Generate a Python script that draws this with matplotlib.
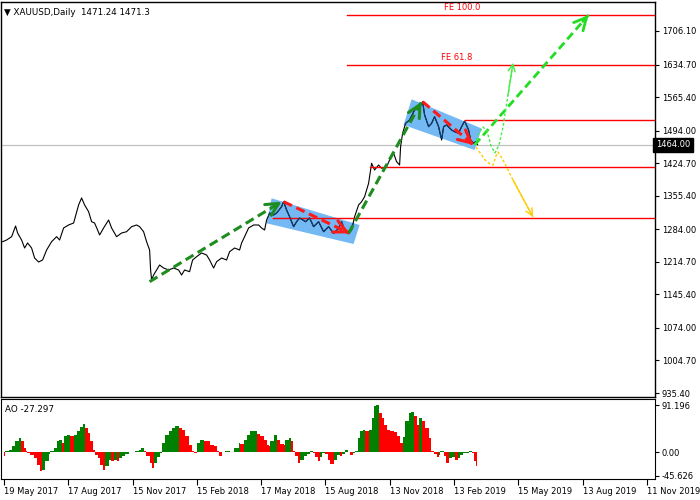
import numpy as np
import matplotlib
matplotlib.use('Agg')
import matplotlib.pyplot as plt
from matplotlib.patches import Polygon
from matplotlib.transforms import blended_transform_factory

# price line, (bar index, close)
bar_idx = [-1, 3, 8, 12, 14, 18, 21, 24, 28, 31, 35, 39, 43, 48, 53, 56, 60, 65, 70, 75,
           78, 81, 85, 88, 91, 94, 96, 100, 105, 108, 113, 118, 123, 128, 133, 136, 140, 143, 146, 147,
           148, 150, 153, 156, 160, 165, 170, 175, 178, 181, 186, 189, 193, 198, 203, 206, 210, 213, 218, 223,
           226, 231, 236, 238, 241, 245, 250, 255, 258, 261, 263, 266, 270, 273, 278, 280, 283, 286, 290, 293,
           296, 302, 306, 310, 315, 320, 325, 330, 335, 338, 341, 345, 348, 351, 355, 358, 361, 365, 367, 368,
           371, 375, 378, 383, 386, 390, 393, 396, 397, 399, 402, 406, 411, 416, 419, 421, 425, 428, 431, 435,
           438, 440, 443, 448, 451, 455, 458, 461, 465, 467, 470, 472, 474]
close = [1257.5, 1261.1, 1268.2, 1290.9, 1276.0, 1261.1, 1244.1, 1254.8, 1244.1, 1222.8,
         1214.3, 1218.6, 1239.8, 1257.5, 1268.2, 1261.1, 1286.7, 1293.1, 1297.3, 1335.7,
         1350.6, 1335.7, 1321.4, 1300.1, 1297.3, 1282.4, 1271.8, 1286.7, 1303.7, 1286.7,
         1268.2, 1276.0, 1278.8, 1289.5, 1293.1, 1289.5, 1278.8, 1257.5, 1239.8, 1197.3,
         1176.0, 1186.6, 1197.3, 1207.9, 1201.5, 1197.3, 1201.5, 1197.3, 1186.6, 1197.3,
         1193.7, 1218.6, 1225.6, 1233.5, 1229.2, 1218.6, 1201.5, 1214.9, 1222.8, 1218.6,
         1236.2, 1244.1, 1239.8, 1254.8, 1268.2, 1286.7, 1293.1, 1293.1, 1286.7, 1282.4,
         1303.7, 1318.6, 1314.4, 1318.6, 1332.0, 1342.7, 1325.0, 1310.7, 1289.5, 1300.1,
         1308.0, 1300.1, 1308.0, 1289.5, 1300.1, 1278.8, 1289.5, 1275.4, 1286.0, 1300.1,
         1282.4, 1275.4, 1282.4, 1310.7, 1335.7, 1342.7, 1353.3, 1381.9, 1410.2, 1424.4,
         1410.2, 1420.8, 1413.8, 1417.2, 1431.5, 1445.7, 1427.8, 1420.8, 1459.8, 1488.3,
         1509.6, 1516.6, 1537.9, 1544.9, 1555.6, 1527.3, 1502.4, 1509.6, 1523.6, 1502.4,
         1474.0, 1502.4, 1506.0, 1495.3, 1491.7, 1488.3, 1502.4, 1514.5, 1495.3, 1474.0,
         1467.0, 1470.4, 1464.0]

# awesome oscillator
ao_idx = [0, 1, 5, 8, 11, 15, 17, 20, 22, 23, 26, 30, 33, 36, 38, 41, 45, 46, 50, 53,
          55, 58, 60, 63, 66, 70, 73, 76, 79, 81, 84, 86, 89, 91, 94, 96, 99, 101, 105, 107,
          110, 113, 115, 118, 121, 125, 128, 131, 135, 137, 140, 142, 146, 148, 150, 153, 156, 158, 161, 165,
          168, 171, 175, 178, 181, 185, 188, 190, 193, 196, 200, 203, 206, 210, 213, 215, 218, 221, 226, 230,
          235, 236, 240, 243, 246, 250, 253, 256, 260, 263, 265, 266, 270, 273, 276, 280, 281, 285, 287, 289,
          291, 294, 296, 300, 303, 306, 309, 311, 314, 316, 318, 321, 324, 326, 330, 333, 336, 338, 341, 344,
          346, 349, 351, 354, 356, 359, 361, 365, 368, 370, 372, 375, 378, 380, 383, 386, 390, 393, 396, 399,
          401, 405, 407, 410, 413, 415, 418, 421, 425, 427, 430, 433, 435, 436, 440, 442, 445, 448, 451, 454,
          456, 459, 465, 468, 470, 472]
ao_val = [-7.7, 2.0, 5.0, 11.6, 22.5, 27.6, 21.0, 8.4, 2.0, -1.3, -5.8, -11.0, -23.8, -35.4, -33.4, -17.4, -3.2, 2.0, 8.4, 21.2,
          24.4, 18.0, 30.9, 32.8, 30.9, 34.0, 40.5, 48.2, 54.7, 47.0, 37.3, 21.2, 5.0, -4.5, -11.0, -23.8, -33.4, -27.0, -14.0, -17.4,
          -14.0, -17.4, -11.0, -7.7, -3.2, 0.0, 0.6, 2.0, 5.0, 8.4, 3.2, -7.7, -20.6, -30.2, -20.6, -9.6, -1.3, 18.0, 34.0, 40.5,
          47.0, 50.0, 47.0, 43.7, 30.9, 14.8, 2.0, -1.3, 18.0, 24.4, 22.5, 21.2, 14.8, 11.6, 2.0, -7.7, 0.0, 2.0, 0.6, 8.4,
          18.0, 16.0, 24.4, 34.0, 40.5, 41.8, 35.4, 30.9, 24.4, 14.8, 11.6, 21.2, 32.8, 24.4, 16.0, 14.8, 24.4, 27.6, 21.2, 2.0,
          -7.7, -20.6, -14.0, -7.7, -3.2, 3.2, -1.3, -9.6, -17.4, -9.6, -1.3, -3.2, -14.0, -21.9, -14.0, -4.5, -7.7, -3.2, 5.0, 0.6,
          -5.8, -1.3, 2.0, 27.6, 40.5, 43.7, 40.5, 43.7, 66.2, 88.7, 91.2, 75.9, 66.2, 53.4, 43.7, 40.5, 38.6, 30.9, 18.0, 30.0,
          59.8, 75.9, 77.8, 69.4, 53.4, 66.2, 59.8, 47.0, 27.6, 2.0, -3.2, -9.6, -4.5, 2.0, -7.7, -20.6, -11.0, -9.6, -14.0, -11.0,
          -4.5, -1.3, 2.0, -1.3, -17.4, -27.3]

price_ticks = [935.40, 1004.70, 1074.00, 1145.40, 1214.70, 1284.00, 1355.40, 1424.70, 1494.00, 1565.40, 1634.70, 1706.10]
date_pos = [0, 64, 129, 193, 257, 321, 386, 450, 514, 579, 643]
date_labels = ['19 May 2017', '17 Aug 2017', '15 Nov 2017', '15 Feb 2018', '17 May 2018', '15 Aug 2018',
               '13 Nov 2018', '13 Feb 2019', '15 May 2019', '13 Aug 2019', '11 Nov 2019']
last_price = 1464.00

# horizontal levels: (price, first bar)
levels = [(1740.2, 343), (1634.7, 343), (1516.6, 461), (1416.6, 366), (1308.0, 269)]
fe_labels = [('FE 100.0', 459, 1740.2), ('FE 61.8', 453, 1634.7)]

# channels (bar, price) corners
channel1 = [(268, 1349.9), (356, 1293.1), (350, 1252.6), (263, 1296.7)]
channel2 = [(408, 1560.7), (478, 1498.5), (471, 1452.7), (400, 1506.0)]

# wave arrows: start, end, colour, width
waves = [((146, 1172.4), (278, 1342.7), '#1e8c1e', 2.2),
         ((280, 1342.7), (346, 1275.4), '#ff1a1a', 2.2),
         ((345, 1275.4), (418, 1555.6), '#1e8c1e', 2.2),
         ((419, 1555.6), (470, 1463.4), '#ff1a1a', 2.2),
         ((471, 1463.4), (585, 1740.2), '#22dd22', 2.0)]

bull_x = [471.4, 475.4, 479.4, 483.4, 487.4, 491.4, 495.4, 499.4, 504.4, 509.4]
bull_y = [1463.4, 1488.9, 1501.7, 1493.2, 1461.3, 1446.4, 1463.4, 1501.7, 1569.8, 1638.0]
bear_x = [472.4, 481.4, 486.4, 489.4, 492.4, 494.4, 499.4, 509.4, 529.4]
bear_y = [1459.1, 1431.5, 1422.9, 1420.8, 1440.0, 1448.5, 1431.5, 1388.9, 1310.1]

plt.rcParams['font.family'] = 'DejaVu Sans'
fs = 6.0

fig = plt.figure(figsize=(7, 5), dpi=100)
ax = fig.add_axes([1/700, 103/500, 654/700, 395/500])
ax2 = fig.add_axes([1/700, 21/500, 654/700, 80/500])

x0, x1 = -2.6, 651.4
ax.set_xlim(x0, x1)
ax.set_ylim(926.9, 1767.8)

# current price line
ax.axhline(last_price, color='#c0c0c0', lw=0.9, zorder=1)

polys = []
for ch in [channel1, channel2]:
    p = Polygon(ch, closed=True, facecolor='#74b8f4', edgecolor='none', zorder=2)
    ax.add_patch(p)
    polys.append(p)

ax.plot(bar_idx, close, color='black', lw=0.8, zorder=3)
for p in polys:
    ln, = ax.plot(bar_idx, close, color='#123f73', lw=0.8, zorder=4)
    ln.set_clip_path(p)

for lvl, start in levels:
    ax.plot([start, x1], [lvl, lvl], color='red', lw=1.0, zorder=3)
for txt, xi, lvl in fe_labels:
    ax.text(xi, lvl + 6, txt, color='red', fontsize=fs, ha='center', va='bottom', zorder=5)


def dash_arrow(p0, p1, color, lw, ls=(0, (3, 1.6)), head='->,head_length=0.9,head_width=0.45'):
    ax.plot([p0[0], p1[0]], [p0[1], p1[1]], color=color, lw=lw, ls=ls, zorder=6)
    back = (p1[0] - (p1[0] - p0[0]) * 0.05, p1[1] - (p1[1] - p0[1]) * 0.05)
    ax.annotate('', xy=p1, xytext=back,
                arrowprops=dict(arrowstyle=head, color=color, lw=lw, shrinkA=0, shrinkB=0), zorder=6)


for p0, p1, c, w in waves:
    dash_arrow(p0, p1, c, w)

# scenario paths
ax.plot(bull_x, bull_y, color='#44ee44', lw=1.0, ls=(0, (2, 1.5)), zorder=6)
ax.annotate('', xy=(bull_x[-1], bull_y[-1]), xytext=(bull_x[-2], bull_y[-2]),
            arrowprops=dict(arrowstyle='->,head_length=0.5,head_width=0.25', color='#44ee44', lw=1.0,
                            shrinkA=0, shrinkB=0))
ax.plot(bear_x, bear_y, color='#ffcc00', lw=1.0, ls=(0, (2, 1.5)), zorder=6)
ax.annotate('', xy=(bear_x[-1], bear_y[-1]), xytext=(bear_x[-2], bear_y[-2]),
            arrowprops=dict(arrowstyle='->,head_length=0.5,head_width=0.25', color='#ffcc00', lw=1.0,
                            shrinkA=0, shrinkB=0))

# right price scale
ax.yaxis.tick_right()
ax.set_yticks(price_ticks)
ax.set_yticklabels(['%.2f' % v for v in price_ticks])
ax.tick_params(axis='y', direction='out', length=3, width=0.8, labelsize=fs, pad=2)
ax.set_xticks([])
for s in ax.spines.values():
    s.set_linewidth(1.0)

tr = blended_transform_factory(ax.transAxes, ax.transData)
ax.text(1.0015, last_price, '%.2f' % last_price, transform=tr, fontsize=fs, color='white', ha='left',
        va='center', clip_on=False,
        bbox=dict(boxstyle='square,pad=0.3', facecolor='black', edgecolor='black'))
ax.text(0.004, 0.985, '\u25bc XAUUSD,Daily  1471.24 1471.3', transform=ax.transAxes, fontsize=fs + 0.3,
        ha='left', va='top')

# AO panel
colors = ['#008000' if i > 0 and ao_val[i] > ao_val[i - 1] else '#ff0000' for i in range(len(ao_val))]
widths = [ao_idx[i + 1] - ao_idx[i] for i in range(len(ao_idx) - 1)] + [1]
ax2.bar(ao_idx, ao_val, width=widths, align='edge', color=colors, linewidth=0)
ax2.set_xlim(x0, x1)
ax2.set_ylim(-51.5, 102.8)
ax2.yaxis.tick_right()
ax2.set_yticks([91.196, 0.0, -45.626])
ax2.set_yticklabels(['91.196', '0.00', '-45.626'])
ax2.tick_params(axis='y', direction='out', length=3, width=0.8, labelsize=fs, pad=2)
ax2.set_xticks(date_pos)
ax2.set_xticklabels(date_labels)
ax2.tick_params(axis='x', direction='out', length=4, width=0.8, labelsize=fs, pad=2)
for lbl in ax2.get_xticklabels():
    lbl.set_ha('left')
ax2.text(0.006, 0.93, 'AO -27.297', transform=ax2.transAxes, fontsize=fs + 0.3, ha='left', va='top')

fig.savefig('out.png', dpi=100)
